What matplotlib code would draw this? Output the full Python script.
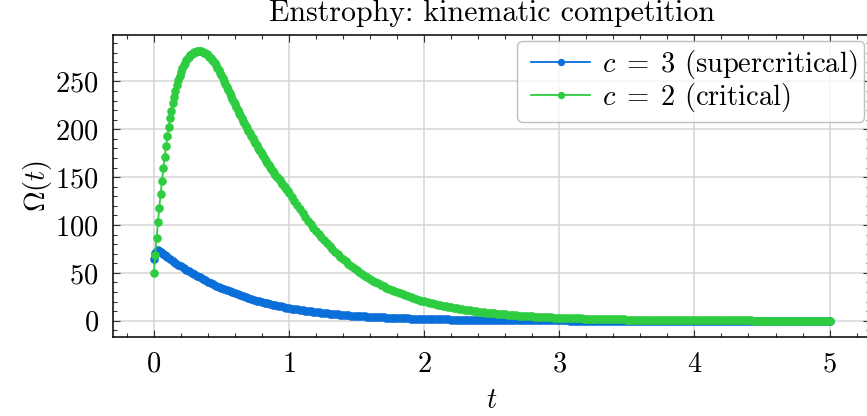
import numpy as np
import matplotlib
matplotlib.use("Agg")
import matplotlib.pyplot as plt
from matplotlib.lines import Line2D
from matplotlib.legend_handler import HandlerLine2D

# sample times
t_c3 = np.round(np.concatenate([np.arange(0, 0.105, 0.01), np.arange(0.12, 5.001, 0.02)]), 2)
t_c2 = np.round(np.concatenate([np.arange(0, 1.005, 0.01), np.arange(1.02, 5.001, 0.02)]), 2)

# c = 3 (supercritical)
omega_c3 = [
    64.0, 71.0, 73.2, 73.4, 72.8, 71.9, 70.9, 69.8, 68.7, 67.6, 66.5,
    64.45, 62.45, 60.52, 58.65, 56.84, 55.03, 53.27, 51.57, 49.93, 48.34,
    46.73, 45.18, 43.68, 42.23, 40.82, 39.41, 38.05, 36.73, 35.46, 34.23,
    33.00, 31.81, 30.67, 29.57, 28.51, 27.46, 26.44, 25.47, 24.53, 23.62,
    22.73, 21.88, 21.05, 20.26, 19.50, 18.76, 18.04, 17.36, 16.70, 16.06,
    15.45, 14.86, 14.29, 13.74, 13.21, 12.71, 12.22, 11.75, 11.30, 10.87,
    10.45, 10.05, 9.67, 9.30, 8.94, 8.60, 8.27, 7.95, 7.65, 7.36,
    7.07, 6.80, 6.54, 6.29, 6.05, 5.82, 5.60, 5.38, 5.18, 4.98,
    4.79, 4.61, 4.43, 4.26, 4.10, 3.94, 3.79, 3.64, 3.50, 3.37,
    3.24, 3.12, 3.00, 2.88, 2.77, 2.67, 2.56, 2.47, 2.37, 2.28,
    2.19, 2.11, 2.03, 1.95, 1.88, 1.81, 1.74, 1.67, 1.61, 1.55,
    1.49, 1.43, 1.38, 1.32, 1.27, 1.22, 1.18, 1.13, 1.09, 1.05,
    1.01, 0.97, 0.93, 0.90, 0.86, 0.83, 0.80, 0.77, 0.74, 0.71,
    0.68, 0.66, 0.63, 0.61, 0.58, 0.56, 0.54, 0.52, 0.50, 0.48,
    0.46, 0.44, 0.43, 0.41, 0.40, 0.38, 0.37, 0.35, 0.34, 0.32,
    0.31, 0.30, 0.29, 0.28, 0.27,
    0.26, 0.25, 0.24, 0.23, 0.22, 0.21, 0.20, 0.19, 0.19, 0.18,
    0.17, 0.16, 0.16, 0.15, 0.15, 0.14, 0.13, 0.13, 0.12, 0.12,
    0.11, 0.11, 0.10, 0.10, 0.10, 0.09, 0.09, 0.08, 0.08, 0.08,
    0.07, 0.07, 0.07, 0.07, 0.06, 0.06, 0.06, 0.05, 0.05, 0.05,
    0.05, 0.05, 0.04, 0.04, 0.04, 0.04, 0.04, 0.03, 0.03, 0.03,
    0.03, 0.03, 0.03, 0.03, 0.03, 0.02, 0.02, 0.02, 0.02, 0.02,
    0.02, 0.02, 0.02, 0.02, 0.02, 0.02, 0.02, 0.02, 0.02, 0.02,
    0.01, 0.01, 0.01, 0.01, 0.01, 0.01, 0.01, 0.01, 0.01, 0.01,
    0.01, 0.01, 0.01, 0.01, 0.01, 0.01, 0.01, 0.01, 0.01, 0.01,
    0.01, 0.01, 0.01, 0.01, 0.01, 0.01, 0.01, 0.01, 0.01, 0.01,
]

# c = 2 (critical)
omega_c2 = [
    50.0, 68.3, 86.2, 102.6, 118.0, 132.6, 146.3, 159.2, 171.2, 182.4,
    192.8, 202.4, 211.3, 219.5, 227.0, 234.0, 240.3, 246.0, 251.2, 255.8,
    259.9, 263.5, 266.7, 269.5, 272.0, 274.1, 275.9, 277.4, 278.7, 279.7,
    280.5, 281.0, 281.4, 281.5, 281.4, 281.2, 280.7, 280.1, 279.3, 278.4,
    277.2, 275.9, 274.4, 272.8, 270.9, 268.9, 266.8, 264.4, 261.9, 259.2,
    256.3, 253.2, 250.1, 247.0, 243.9, 240.8, 237.8, 234.8, 231.8, 228.8,
    225.9, 223.0, 220.1, 217.2, 214.4, 211.6, 208.9, 206.2, 203.5, 200.8,
    198.2, 195.7, 193.1, 190.6, 188.1, 185.7, 183.3, 180.9, 178.5, 176.2,
    173.9, 171.6, 169.4, 167.2, 165.0, 162.9, 160.8, 158.7, 156.6, 154.6,
    152.6, 150.6, 148.6, 146.7, 144.8, 142.9, 141.0, 139.2, 137.4, 135.6,
    133.9,
    129.3, 124.8, 120.5, 116.4, 112.4, 108.4, 104.6, 100.9, 97.3, 93.9,
    90.5, 87.2, 84.0, 80.9, 78.0, 75.0, 72.2, 69.5, 66.9, 64.3,
    61.9, 59.5, 57.2, 55.0, 52.9, 50.9, 49.0, 47.1, 45.4, 43.6,
    42.0, 40.4, 38.9, 37.4, 36.0, 34.6, 33.3, 32.0, 30.8, 29.7,
    28.5, 27.5, 26.4, 25.4, 24.5, 23.5, 22.6, 21.8, 21.0, 20.2,
    19.43, 18.72, 18.03, 17.37, 16.73, 16.12, 15.53, 14.96, 14.41, 13.88,
    13.37, 12.88, 12.41, 11.95, 11.51, 11.09, 10.68, 10.29, 9.91, 9.55,
    9.20, 8.86, 8.54, 8.22, 7.92, 7.63, 7.35, 7.08, 6.82, 6.57,
    6.33, 6.10, 5.87, 5.66, 5.45, 5.25, 5.06, 4.87, 4.69, 4.52,
    4.35, 4.19, 4.04, 3.89, 3.75, 3.61, 3.48, 3.35, 3.23, 3.11,
    3.00, 2.89, 2.79, 2.69, 2.60, 2.51, 2.42, 2.33, 2.25, 2.17,
    2.09, 2.02, 1.95, 1.88, 1.81, 1.75, 1.69, 1.63, 1.57, 1.51,
    1.46, 1.41, 1.36, 1.31, 1.26, 1.22, 1.18, 1.13, 1.09, 1.06,
    1.02, 0.98, 0.95, 0.91, 0.88, 0.85, 0.82, 0.79, 0.76, 0.74,
    0.71, 0.69, 0.66, 0.64, 0.62, 0.59, 0.57, 0.55, 0.53, 0.51,
    0.50, 0.48, 0.46, 0.45, 0.43, 0.41, 0.40, 0.39, 0.37, 0.36,
    0.35, 0.33, 0.32, 0.31, 0.30, 0.29, 0.28, 0.27, 0.26, 0.25,
    0.24, 0.23, 0.22, 0.22, 0.21, 0.20, 0.19, 0.19, 0.18, 0.17,
    0.17, 0.16, 0.16, 0.15, 0.14, 0.14, 0.13, 0.13, 0.12, 0.12,
    0.12, 0.11, 0.11, 0.10, 0.10, 0.09, 0.09, 0.09, 0.08, 0.08,
]

labels = [r"$c\;=\;3$ (supercritical)", r"$c\;=\;2$ (critical)"]
colors = ["#0a6fd8", "#2ecc40"]

plt.rcParams["font.family"] = ["cmr10", "DejaVu Serif"]
plt.rcParams["mathtext.fontset"] = "cm"
plt.rcParams["axes.formatter.use_mathtext"] = True
plt.rcParams["font.size"] = 20.5
plt.rcParams["axes.unicode_minus"] = False

fig = plt.figure(figsize=(8.67, 4.16), dpi=100)
ax = fig.add_axes([0.1307, 0.1906, 0.8729, 0.7252])

ax.plot(t_c3, omega_c3, "o-", color=colors[0], ms=6.2, mew=0, lw=1.3, label=labels[0])
ax.plot(t_c2, omega_c2, "o-", color=colors[1], ms=6.2, mew=0, lw=1.3, label=labels[1])

ax.set_xlim(-0.3, 5.3)
ax.set_ylim(-16.7, 298.4)
ax.set_xticks([0, 1, 2, 3, 4, 5])
ax.set_yticks([0, 50, 100, 150, 200, 250])
ax.xaxis.set_minor_locator(matplotlib.ticker.MultipleLocator(0.2))
ax.yaxis.set_minor_locator(matplotlib.ticker.MultipleLocator(10))
ax.tick_params(which="both", direction="in", top=True, right=True, width=0.8, color="#333333")
ax.tick_params(which="major", length=5, pad=10.5)
ax.tick_params(which="minor", length=3)
for s in ax.spines.values():
    s.set_linewidth(1.1)
ax.grid(True, color="#d4d4d4", lw=1.1)
ax.set_axisbelow(True)

ax.set_xlabel(r"$t$", labelpad=7)
ax.set_ylabel(r"$\Omega(t)$", labelpad=1)
ax.set_title("Enstrophy: kinematic competition", fontsize=21.6, pad=10)

leg = ax.legend(loc="upper right", borderaxespad=0.2, handletextpad=0.4,
                handlelength=2.3, labelspacing=0.0, borderpad=0.26,
                fancybox=True, framealpha=0.8, markerscale=0.85,
                handler_map={Line2D: HandlerLine2D(xpad=0.23)})
leg.get_frame().set_edgecolor("#b0b0b0")

fig.savefig("out.png", dpi=100)
